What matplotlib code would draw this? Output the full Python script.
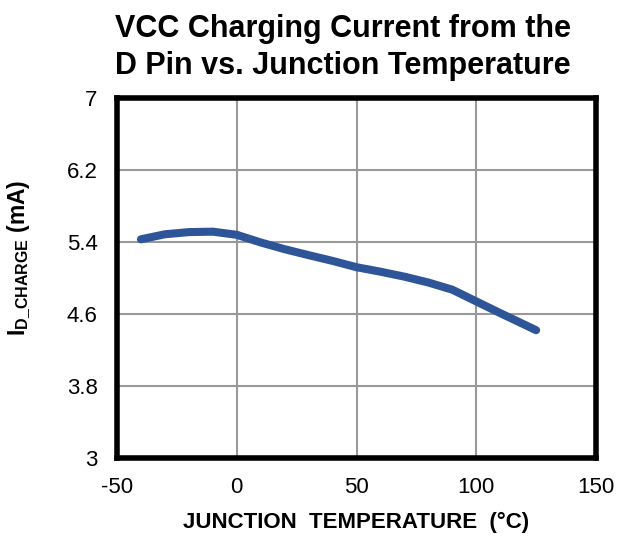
import numpy as np
import matplotlib
matplotlib.use("Agg")
import matplotlib.pyplot as plt

plt.rcParams['font.family'] = ['Liberation Sans', 'DejaVu Sans']
plt.rcParams['mathtext.fontset'] = 'custom'
plt.rcParams['mathtext.rm'] = 'Liberation Sans'
plt.rcParams['mathtext.bf'] = 'Liberation Sans:bold'
plt.rcParams['axes.unicode_minus'] = False

# Datos
temperatura = [-40, -30, -20, -10, 0, 10, 20, 30, 40, 50, 60, 70, 80, 90, 100, 110, 125]
corriente = [5.43, 5.486, 5.51, 5.515, 5.48, 5.395, 5.32, 5.254, 5.19, 5.12,
             5.07, 5.015, 4.95, 4.87, 4.74, 4.61, 4.42]
xticks = [-50, 0, 50, 100, 150]
yticks = [3, 3.8, 4.6, 5.4, 6.2, 7]

fig = plt.figure(figsize=(6.2, 5.37), dpi=100)
ax = fig.add_axes([0.1887, 0.1471, 0.7726, 0.6704])

ax.plot(temperatura, corriente, color='#2E5597', linewidth=5.8,
        solid_capstyle='round', solid_joinstyle='round', zorder=3)

ax.set_xlim(-50, 150)
ax.set_ylim(3, 7)
ax.set_xticks(xticks)
ax.set_yticks(yticks)
ax.set_yticklabels([f'{v:g}' for v in yticks])
ax.tick_params(length=0, labelsize=16)
ax.tick_params(axis='x', pad=14)
ax.tick_params(axis='y', pad=14)
ax.grid(True, color='#999999', linewidth=1.5)
ax.set_axisbelow(True)
for s in ax.spines.values():
    s.set_linewidth(4)
    s.set_color('black')

# Título alineado a la izquierda
fig.text(115 / 620, 1 - 14 / 537,
         'VCC Charging Current from the\nD Pin vs. Junction Temperature',
         fontsize=22, fontweight='bold', ha='left', va='top', linespacing=1.3)
ax.set_xlabel('JUNCTION  TEMPERATURE  (°C)', fontsize=16, fontweight='bold', labelpad=10)
ax.set_ylabel(r'$\mathbf{I_{D\_CHARGE}}$ (mA)', fontsize=16.5, fontweight='bold')
ax.yaxis.set_label_coords(-0.175, 0.556)

fig.savefig('out.png', dpi=100)
